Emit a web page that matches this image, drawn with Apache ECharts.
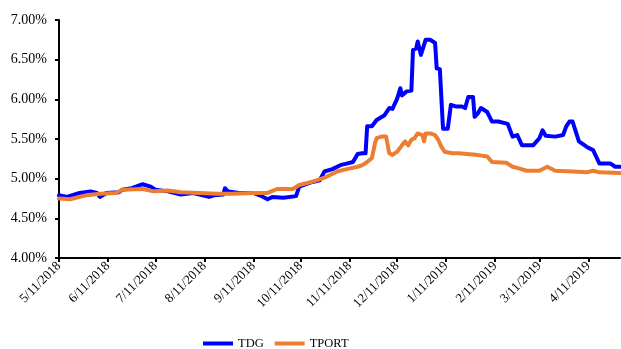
<!DOCTYPE html>
<html>
<head>
<meta charset="utf-8">
<script src="https://cdn.jsdelivr.net/npm/echarts@6/dist/echarts.min.js"></script>
<style>
  html, body { margin: 0; padding: 0; background: #fff; }
  #chart { width: 621px; height: 349px; }
</style>
</head>
<body>
<div id="chart"></div>
<script>
// Monthly tick dates on the x axis
const tickDates = [
  '2018-05-11', '2018-06-11', '2018-07-11', '2018-08-11', '2018-09-11', '2018-10-11',
  '2018-11-11', '2018-12-11', '2019-01-11', '2019-02-11', '2019-03-11', '2019-04-11'
];
const yTicks = [4.0, 4.5, 5.0, 5.5, 6.0, 6.5, 7.0];

// TDG yield (%)
const tdgDates = [
  '2018-05-11', '2018-05-16', '2018-05-24', '2018-05-31', '2018-06-04', '2018-06-06',
  '2018-06-10', '2018-06-18', '2018-06-20', '2018-06-26', '2018-07-03', '2018-07-08',
  '2018-07-11', '2018-07-19', '2018-07-27', '2018-08-04', '2018-08-10', '2018-08-14',
  '2018-08-17', '2018-08-23', '2018-08-24', '2018-08-26', '2018-09-02', '2018-09-11',
  '2018-09-15', '2018-09-20', '2018-09-23', '2018-09-30', '2018-10-08', '2018-10-09',
  '2018-10-10', '2018-10-17', '2018-10-23', '2018-10-26', '2018-10-31', '2018-11-05',
  '2018-11-09', '2018-11-13', '2018-11-16', '2018-11-19', '2018-11-21', '2018-11-22',
  '2018-11-25', '2018-11-28', '2018-12-03', '2018-12-06', '2018-12-08', '2018-12-11',
  '2018-12-13', '2018-12-14', '2018-12-17', '2018-12-20', '2018-12-21', '2018-12-23',
  '2018-12-24', '2018-12-26', '2018-12-27', '2018-12-29', '2019-01-01', '2019-01-04',
  '2019-01-05', '2019-01-07', '2019-01-09', '2019-01-12', '2019-01-14', '2019-01-17',
  '2019-01-21', '2019-01-23', '2019-01-25', '2019-01-28', '2019-01-29', '2019-01-31',
  '2019-02-02', '2019-02-06', '2019-02-09', '2019-02-13', '2019-02-19', '2019-02-22',
  '2019-02-25', '2019-02-28', '2019-03-07', '2019-03-11', '2019-03-13', '2019-03-15',
  '2019-03-21', '2019-03-26', '2019-03-28', '2019-03-30', '2019-04-01', '2019-04-05',
  '2019-04-10', '2019-04-14', '2019-04-18', '2019-04-25', '2019-04-28', '2019-05-01'
];
const tdgValues = [
  4.79, 4.77, 4.82, 4.84, 4.82, 4.77,
  4.82, 4.83, 4.86, 4.88, 4.93, 4.90,
  4.86, 4.84, 4.80, 4.82, 4.79, 4.77,
  4.79, 4.80, 4.88, 4.84, 4.82, 4.82,
  4.79, 4.74, 4.77, 4.76, 4.78, 4.78,
  4.90, 4.95, 4.98, 5.09, 5.12, 5.17,
  5.19, 5.21, 5.31, 5.32, 5.32, 5.66,
  5.66, 5.74, 5.80, 5.89, 5.88, 6.01,
  6.14, 6.05, 6.10, 6.11, 6.62, 6.64,
  6.73, 6.56, 6.54, 6.75, 6.75, 6.71,
  6.39, 6.38, 5.63, 5.63, 5.93, 5.91,
  5.91, 5.89, 6.03, 6.03, 5.78, 5.82,
  5.89, 5.84, 5.72, 5.72, 5.69, 5.53,
  5.55, 5.42, 5.42, 5.51, 5.61, 5.54,
  5.53, 5.55, 5.66, 5.72, 5.72, 5.47,
  5.40, 5.36, 5.19, 5.19, 5.15, 5.15
];

// TPORT yield (%)
const tportDates = [
  '2018-05-11', '2018-05-18', '2018-05-28', '2018-06-06', '2018-06-16', '2018-06-20',
  '2018-07-03', '2018-07-10', '2018-07-19', '2018-07-27', '2018-08-08', '2018-08-19',
  '2018-08-29', '2018-09-11', '2018-09-20', '2018-09-26', '2018-10-06', '2018-10-10',
  '2018-10-18', '2018-10-27', '2018-11-03', '2018-11-09', '2018-11-16', '2018-11-19',
  '2018-11-22', '2018-11-25', '2018-11-27', '2018-11-28', '2018-12-01', '2018-12-04',
  '2018-12-06', '2018-12-08', '2018-12-11', '2018-12-14', '2018-12-16', '2018-12-18',
  '2018-12-20', '2018-12-22', '2018-12-24', '2018-12-27', '2018-12-28', '2018-12-29',
  '2019-01-01', '2019-01-04', '2019-01-06', '2019-01-08', '2019-01-10', '2019-01-15',
  '2019-01-19', '2019-01-24', '2019-01-30', '2019-02-06', '2019-02-09', '2019-02-18',
  '2019-02-22', '2019-02-26', '2019-03-03', '2019-03-11', '2019-03-16', '2019-03-21',
  '2019-04-01', '2019-04-10', '2019-04-14', '2019-04-18', '2019-05-01'
];
const tportValues = [
  4.75, 4.74, 4.79, 4.81, 4.82, 4.86,
  4.87, 4.84, 4.85, 4.83, 4.82, 4.81,
  4.81, 4.82, 4.82, 4.87, 4.87, 4.92,
  4.96, 5.02, 5.09, 5.12, 5.15, 5.17,
  5.21, 5.26, 5.45, 5.51, 5.53, 5.53,
  5.32, 5.30, 5.34, 5.42, 5.47, 5.42,
  5.49, 5.51, 5.57, 5.55, 5.47, 5.57,
  5.57, 5.55, 5.49, 5.40, 5.34, 5.32,
  5.32, 5.31, 5.30, 5.28, 5.21, 5.20,
  5.15, 5.13, 5.10, 5.10, 5.15, 5.10,
  5.09, 5.08, 5.10, 5.08, 5.07
];

function toTime(s) {
  const p = s.split('-').map(Number);
  return new Date(p[0], p[1] - 1, p[2]).getTime();
}
function pairs(dates, values) {
  return dates.map((d, i) => [toTime(d), values[i]]);
}

const FONT = '"Liberation Serif", "Times New Roman", serif';
const tickTimes = tickDates.map(toTime);

const chart = echarts.init(document.getElementById('chart'), null, { renderer: 'canvas' });
chart.setOption({
  animation: false,
  backgroundColor: '#fff',
  grid: { left: 59, right: 1, top: 20, bottom: 91, containLabel: false },
  legend: {
    left: 198,
    top: 332,
    itemWidth: 30,
    itemHeight: 4,
    itemGap: 11,
    icon: 'rect',
    textStyle: { fontFamily: FONT, fontSize: 12.5, color: '#000' },
    data: ['TDG', 'TPORT']
  },
  xAxis: {
    // dates are plotted as timestamps on a linear scale
    type: 'value',
    min: toTime('2018-05-11'),
    max: toTime('2019-05-01'),
    splitLine: { show: false },
    axisLine: { show: true, lineStyle: { color: '#000', width: 2 } },
    axisTick: {
      show: true, length: 4, inside: false,
      customValues: tickTimes,
      lineStyle: { color: '#000', width: 2 }
    },
    axisLabel: {
      customValues: tickTimes,
      rotate: 45,
      margin: 6,
      fontFamily: FONT,
      fontSize: 13,
      color: '#000',
      formatter: function (v) {
        const d = new Date(v);
        return (d.getMonth() + 1) + '/' + d.getDate() + '/' + d.getFullYear();
      }
    }
  },
  yAxis: {
    type: 'value',
    min: yTicks[0],
    max: yTicks[yTicks.length - 1],
    interval: 0.5,
    splitLine: { show: false },
    axisLine: { show: true, lineStyle: { color: '#000', width: 2 } },
    axisTick: { show: true, length: 4, inside: false, lineStyle: { color: '#000', width: 2 } },
    axisLabel: {
      margin: 12,
      fontFamily: FONT,
      fontSize: 14,
      color: '#000',
      formatter: v => v.toFixed(2) + '%'
    }
  },
  series: [
    {
      name: 'TDG',
      type: 'line',
      data: pairs(tdgDates, tdgValues),
      showSymbol: false,
      symbol: 'none',
      lineStyle: { color: '#0000FF', width: 4, join: 'round', cap: 'round' },
      itemStyle: { color: '#0000FF' }
    },
    {
      name: 'TPORT',
      type: 'line',
      data: pairs(tportDates, tportValues),
      showSymbol: false,
      symbol: 'none',
      lineStyle: { color: '#ED7D31', width: 4, join: 'round', cap: 'round' },
      itemStyle: { color: '#ED7D31' }
    }
  ]
});
</script>
</body>
</html>
